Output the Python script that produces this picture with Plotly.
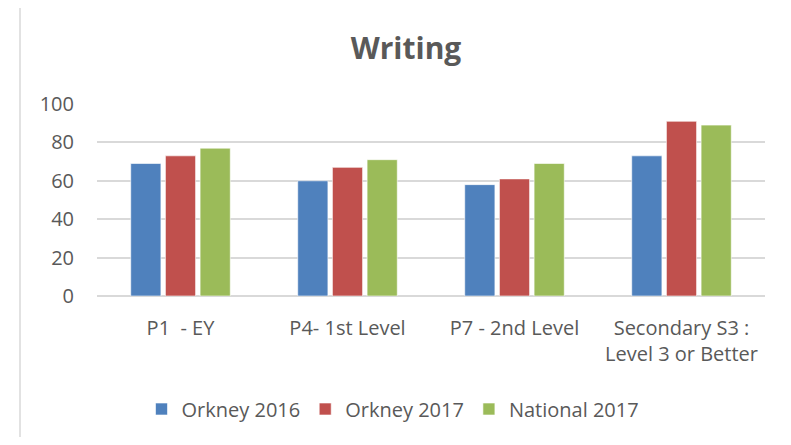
import plotly.graph_objects as go

categories = ["P1  - EY", "P4- 1st Level", "P7 - 2nd Level", "Secondary S3 :<br>Level 3 or Better"]
orkney_2016 = [69, 60, 58, 73]
orkney_2017 = [73, 67, 61, 91]
national_2017 = [77, 71, 69, 89]
y_ticks = [0, 20, 40, 60, 80, 100]

# page body has an 8px margin: figure starts at screen (8, 8)
OFF = 8
W, H = 775, 429
L, T = 97 - OFF, 104 - OFF
R = W - (765 - OFF)
B = H - (296 - OFF)
pw, ph = W - L - R, H - T - B

def px_x(x):  # screen px -> paper
    return (x - OFF - L) / pw

def px_y(y):
    return (H - B - (y - OFF)) / ph

font = "Open Sans"
grey = "#595959"

fig = go.Figure()
series = [("Orkney 2016", orkney_2016, "#4F81BD"),
          ("Orkney 2017", orkney_2017, "#C0504D"),
          ("National 2017", national_2017, "#9BBB59")]
for name, vals, col in series:
    fig.add_trace(go.Bar(x=categories, y=vals, name=name,
                         marker=dict(color=col, line=dict(color="rgba(255,255,255,0.6)", width=1))))

fig.update_layout(
    width=W, height=H,
    margin=dict(l=L, r=R, t=T, b=B, autoexpand=False),
    paper_bgcolor="white", plot_bgcolor="white",
    barmode="group", bargap=0.377, bargroupgap=0.13,
    title=dict(text="<b>Writing</b>", x=(406 - OFF) / W, xanchor="center",
               y=1 - (48 - OFF) / H, yanchor="middle",
               font=dict(family=font, size=30, color=grey)),
    font=dict(family=font, size=20, color=grey),
    showlegend=True,
    legend=dict(orientation="h", x=px_x(393), xanchor="center",
                y=px_y(409), yanchor="middle",
                font=dict(family=font, size=20, color=grey),
                itemwidth=30, tracegroupgap=0),
    xaxis=dict(showgrid=False, showline=False, ticks="outside", ticklen=14,
               tickcolor="rgba(0,0,0,0)", tickfont=dict(size=20, color=grey)),
    yaxis=dict(range=[0, 100], tickvals=y_ticks, showgrid=True,
               gridcolor="#d9d9d9", gridwidth=1.5, zeroline=True,
               zerolinecolor="#d9d9d9", zerolinewidth=1.5, showline=False,
               ticks="outside", ticklen=18, tickcolor="rgba(0,0,0,0)",
               tickfont=dict(size=20, color=grey)),
    shapes=[dict(type="rect", xref="paper", yref="paper",
                 x0=px_x(20), x1=px_x(830), y0=px_y(490), y1=px_y(6),
                 line=dict(color="#d9d9d9", width=1.5), fillcolor="rgba(0,0,0,0)",
                 layer="below")],
)

fig.write_html("out.html")
